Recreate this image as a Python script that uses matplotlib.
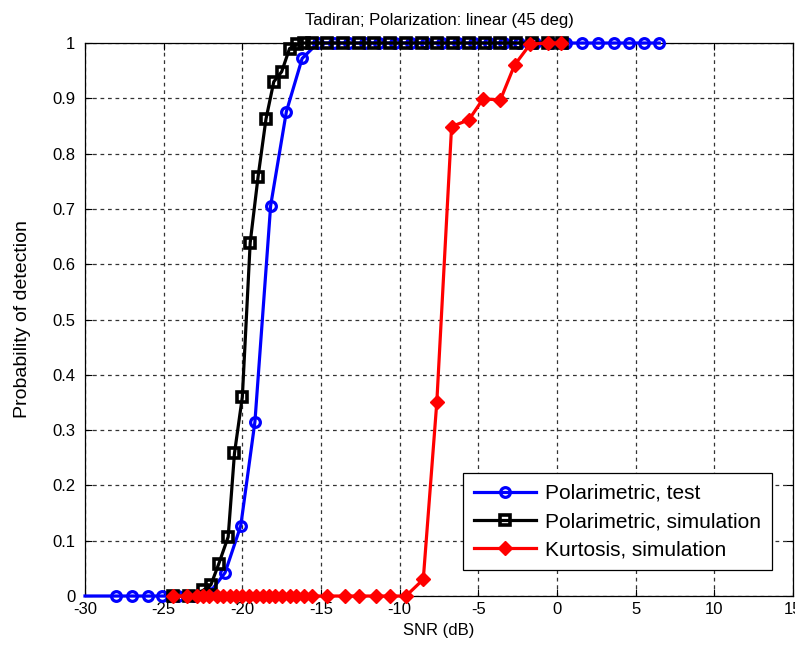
import matplotlib
matplotlib.use("Agg")
import matplotlib.pyplot as plt

plt.rcParams['font.family'] = ['Liberation Sans', 'DejaVu Sans']
plt.rcParams['axes.unicode_minus'] = False

# Polarimetric, test (blue circles)
test_snr = [-30.0, -28.0, -27.0, -26.0, -25.1, -24.1, -23.1, -22.1, -21.1, -20.1, -19.2,
            -18.2, -17.2, -16.2, -15.2, -14.2, -13.2, -12.2, -11.3, -10.3, -9.3,
            -8.3, -7.3, -6.3, -5.3, -4.3, -3.4, -2.4, -1.4, -0.4, 0.6,
            1.6, 2.6, 3.6, 4.6, 5.5, 6.5]
test_pd = [0, 0, 0, 0, 0, 0, 0, 0.005, 0.042, 0.127, 0.315,
           0.706, 0.876, 0.972, 1, 1, 1, 1, 1, 1, 1,
           1, 1, 1, 1, 1, 1, 1, 1, 1, 1,
           1, 1, 1, 1, 1, 1]

# Polarimetric, simulation (black squares)
sim_snr = [-24.4, -23.4, -22.5, -22.0, -21.5, -20.9, -20.5, -20.0, -19.5, -19.0,
           -18.5, -18.0, -17.5, -17.0, -16.5, -16.1, -15.6, -14.6, -13.6, -12.6,
           -11.6, -10.6, -9.6, -8.6, -7.6, -6.6, -5.6, -4.6, -3.6, -2.6,
           -1.6, -0.6, 0.3]
sim_pd = [0, 0, 0.01, 0.02, 0.058, 0.107, 0.258, 0.36, 0.639, 0.758,
          0.862, 0.93, 0.948, 0.99, 0.998, 1, 1, 1, 1, 1,
          1, 1, 1, 1, 1, 1, 1, 1, 1, 1,
          1, 1, 1]

# Kurtosis, simulation (red diamonds)
kurt_snr = [-24.4, -23.5, -22.9, -22.5, -22.1, -21.6, -21.2, -20.8, -20.4, -20.0,
            -19.6, -19.1, -18.7, -18.3, -17.9, -17.5, -17.0, -16.6, -16.1, -15.6,
            -14.6, -13.5, -12.6, -11.5, -10.6, -9.6, -8.5, -7.64, -6.7, -5.6,
            -4.7, -3.6, -2.7, -1.7, -0.6, 0.25]
kurt_pd = [0, 0, 0, 0, 0, 0, 0, 0, 0, 0,
           0, 0, 0, 0, 0, 0, 0, 0, 0, 0,
           0, 0, 0, 0, 0, 0, 0.03, 0.35, 0.849, 0.861,
           0.899, 0.897, 0.96, 0.998, 1, 1]

labels = ['Polarimetric, test', 'Polarimetric, simulation', 'Kurtosis, simulation']
xticks = [-30, -25, -20, -15, -10, -5, 0, 5, 10, 15]
yticks = [0, 0.1, 0.2, 0.3, 0.4, 0.5, 0.6, 0.7, 0.8, 0.9, 1]
ytick_labels = ['0', '0.1', '0.2', '0.3', '0.4', '0.5', '0.6', '0.7', '0.8', '0.9', '1']

fig = plt.figure(figsize=(7.95, 6.53), dpi=100)
ax = fig.add_axes([85/795, 57/653, 708/795, 553/653])

ax.plot(test_snr, test_pd, color='#0000ff', linewidth=2.3, marker='o',
        markersize=7, markerfacecolor='none', markeredgewidth=2.3,
        markevery=list(range(1, len(test_snr))),
        label=labels[0], clip_on=False, zorder=3)
ax.plot(sim_snr, sim_pd, color='black', linewidth=2.3, marker='s',
        markersize=7.5, markerfacecolor='none', markeredgewidth=2.6,
        label=labels[1], clip_on=False, zorder=4)
ax.plot(kurt_snr, kurt_pd, color='#ff0000', linewidth=2.3, marker='D',
        markersize=7, markerfacecolor='#ff0000', markeredgewidth=1.0,
        label=labels[2], clip_on=False, zorder=5)

ax.set_xlim(-30, 15)
ax.set_ylim(0, 1)
ax.set_xticks(xticks)
ax.set_yticks(yticks)
ax.set_yticklabels(ytick_labels)
ax.tick_params(direction='in', length=5, top=True, right=True, labelsize=12,
               width=0.8)
ax.tick_params(axis='y', pad=7)
ax.tick_params(axis='x', pad=4)
ax.grid(True, color='#333333', linestyle=(0, (3, 3)), linewidth=0.9)
for s in ax.spines.values():
    s.set_linewidth(0.9)

ax.set_xlabel('SNR (dB)', fontsize=12, labelpad=5)
ax.set_ylabel('Probability of detection', fontsize=14, labelpad=15)
ax.set_title('Tadiran; Polarization: linear (45 deg)', fontsize=12, pad=13)

leg = ax.legend(loc='lower right', bbox_to_anchor=(0.97, 0.047), fontsize=15,
                handlelength=3.0, fancybox=False, framealpha=1, edgecolor='black',
                borderpad=0.5, labelspacing=0.45, handletextpad=0.43,
                borderaxespad=0)
leg.get_frame().set_linewidth(0.9)

fig.savefig('out.png', dpi=100)
